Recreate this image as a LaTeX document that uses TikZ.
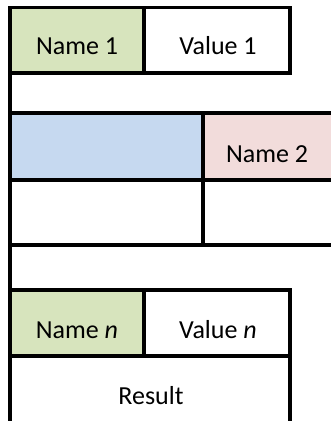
\documentclass[tikz,border=0pt]{standalone}
\usepackage{fontspec}
\setmainfont{Carlito}
\usepackage{xcolor}
\definecolor{nameGreen}{RGB}{215,228,189}
\definecolor{cellBlue}{RGB}{198,217,240}
\definecolor{cellPink}{RGB}{242,220,219}

\begin{document}
\begin{tikzpicture}[x=1pt,y=-1pt,line cap=rect,
    grid/.style={line width=3.4pt},
    lbl/.style={anchor=base,inner sep=0pt,font=\fontsize{26}{30}\selectfont}]
  \useasboundingbox (0,0) rectangle (331,421);
  \clip (0,0) rectangle (331,421);
  \def\xL{10}   % left edge
  \def\xM{144}  % name / value split
  \def\xS{203}  % blue / pink split
  \def\xR{290}  % right edge of the narrow rows
% ================= fills =================
  \fill[nameGreen] (\xL,7.5) rectangle (\xM,73);
  \fill[cellBlue]  (\xL,113) rectangle (\xS,180);
  \fill[cellPink]  (\xS,113) rectangle (331,180);
  \fill[nameGreen] (\xL,290) rectangle (\xM,356);
% ================= texts =================
  \node[lbl] (name1)  at (77,54.5)  {Name 1};
  \node[lbl] (value1) at (218,54.5) {Value 1};
  \node[lbl] (name2)  at (267,162)  {Name 2};
  \node[lbl] (namen)  at (77,338)   {Name \textit{n}};
  \node[lbl] (valuen) at (218,338)  {Value \textit{n}};
  \node[lbl] (result) at (151,404)  {Result};
% ================= grid lines =================
  \draw[grid] (\xL,430) -- (\xL,7.5) -- (\xR,7.5) -- (\xR,73);
  \draw[grid] (\xM,7.5) -- (\xM,73);
  \draw[grid] (\xL,73) -- (\xR,73);
  \foreach \y in {113,180,245}
    \draw[grid] (\xL,\y) -- (340,\y);
  \draw[grid] (\xS,113) -- (\xS,245);
  \draw[grid] (\xL,290) -- (\xR,290) -- (\xR,430);
  \draw[grid] (\xM,290) -- (\xM,356);
  \draw[grid] (\xL,356) -- (\xR,356);
\end{tikzpicture}
\end{document}
